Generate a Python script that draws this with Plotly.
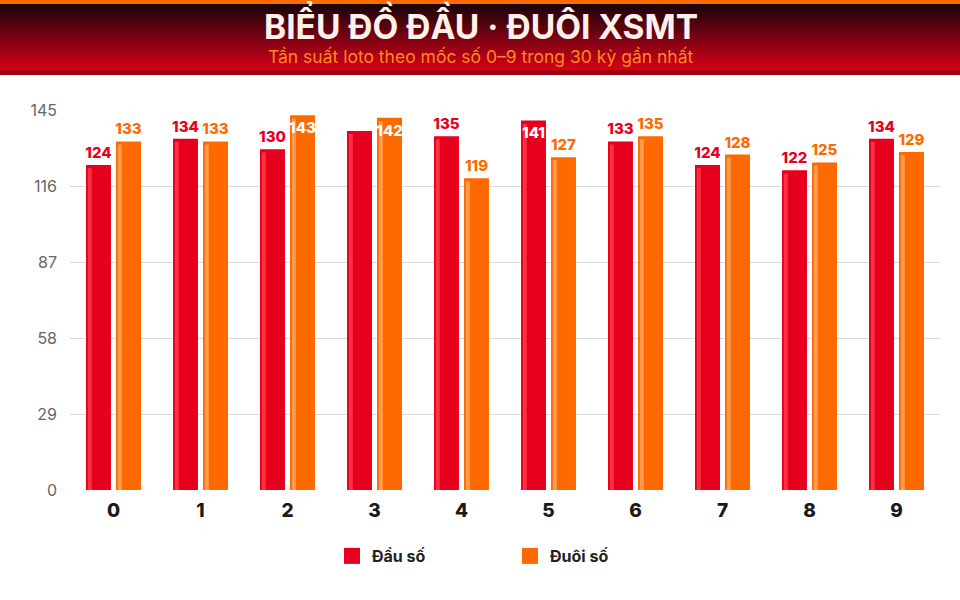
import plotly.graph_objects as go

# Data
digits = ["0", "1", "2", "3", "4", "5", "6", "7", "8", "9"]
dau_so = [124, 134, 130, 137, 135, 141, 133, 124, 122, 134]
duoi_so = [133, 133, 143, 142, 119, 127, 135, 128, 125, 129]
y_ticks = [0, 29, 58, 87, 116, 145]

# label placement (chart.js style: big bars get label inside, overlapping label hidden)
dau_pos = ["outside", "outside", "outside", "none", "outside", "inside", "outside", "outside", "outside", "outside"]
duoi_pos = ["outside", "outside", "inside", "inside", "outside", "outside", "outside", "outside", "outside", "outside"]

RED = "#e6001e"
ORANGE = "#ff6a00"
W, H = 960, 600
ML, MR, MT, MB = 70, 20, 110, 110
PW, PH = W - ML - MR, H - MT - MB


def px_x(p):
    return (p - ML) / PW


def px_y(p):
    return (H - MB - p) / PH


fig = go.Figure()

bw = 0.287
offs = {"dau": -0.316, "duoi": 0.029}

# main bars
fig.add_trace(go.Bar(
    x=digits, y=dau_so, name="Đầu số", offset=offs["dau"], width=bw,
    marker=dict(color=RED, line=dict(width=0)), hoverinfo="x+y", showlegend=False,
))
fig.add_trace(go.Bar(
    x=digits, y=duoi_so, name="Đuôi số", offset=offs["duoi"], width=bw,
    marker=dict(color=ORANGE, line=dict(width=0)), hoverinfo="x+y", showlegend=False,
))
# light highlight stripe on the left of each bar
fig.add_trace(go.Bar(
    x=digits, y=[v - 1.2 for v in dau_so], offset=offs["dau"] + 0.021, width=0.045,
    marker=dict(color="#ff3040", line=dict(width=0)), showlegend=False, hoverinfo="skip",
))
fig.add_trace(go.Bar(
    x=digits, y=[v - 1.2 for v in duoi_so], offset=offs["duoi"] + 0.021, width=0.045,
    marker=dict(color="#ff9c50", line=dict(width=0)), showlegend=False, hoverinfo="skip",
))
# value labels on transparent bars so they sit above the stripes
label_font = dict(family="Inter", size=15, weight=800)
for vals, pos, off, col in [(dau_so, dau_pos, offs["dau"], RED), (duoi_so, duoi_pos, offs["duoi"], ORANGE)]:
    fig.add_trace(go.Bar(
        x=digits, y=vals, offset=off, width=bw,
        marker=dict(color="rgba(0,0,0,0)", line=dict(width=0)),
        text=[str(v) for v in vals], textposition=pos, textangle=0,
        insidetextanchor="end", constraintext="none", textfont=label_font,
        outsidetextfont=dict(color=col), insidetextfont=dict(color="white"),
        cliponaxis=False, showlegend=False, hoverinfo="skip",
    ))
# legend entries with big square swatches
for name, col in [("Đầu số", RED), ("Đuôi số", ORANGE)]:
    fig.add_trace(go.Scatter(
        x=[None], y=[None], mode="markers", name=name,
        marker=dict(symbol="square", size=19, color=col, line=dict(width=0)),
    ))

# header band: orange stripe, dark-to-red gradient, dark red underline
shapes = [dict(type="rect", xref="paper", yref="paper", x0=px_x(0), x1=px_x(W),
               y0=px_y(4), y1=px_y(0), fillcolor=ORANGE, line=dict(width=0), layer="below")]
top = (26, 5, 10)
bot = (212, 0, 26)
steps = 33
for i in range(steps):
    t = i / (steps - 1)
    c = tuple(int(top[k] + (bot[k] - top[k]) * t) for k in range(3))
    y0 = 4 + i * 2
    shapes.append(dict(type="rect", xref="paper", yref="paper", x0=px_x(0), x1=px_x(W),
                       y0=px_y(y0 + 2.2), y1=px_y(y0), fillcolor="rgb(%d,%d,%d)" % c,
                       line=dict(width=0), layer="below"))
shapes.append(dict(type="rect", xref="paper", yref="paper", x0=px_x(0), x1=px_x(W),
                   y0=px_y(75), y1=px_y(70), fillcolor="#a3000f", line=dict(width=0), layer="below"))

annotations = [
    dict(text="<b>BIỂU ĐỒ ĐẦU · ĐUÔI XSMT</b>", xref="paper", yref="paper",
         x=px_x(481), y=px_y(24), xanchor="center", yanchor="middle", showarrow=False,
         font=dict(family="Inter", size=33.5, color="#fff1e8", weight=800)),
    dict(text="Tần suất loto theo mốc số 0–9 trong 30 kỳ gần nhất", xref="paper", yref="paper",
         x=px_x(480), y=px_y(56), xanchor="center", yanchor="middle", showarrow=False,
         font=dict(family="Inter", size=17.5, color="#ff8a1e")),
]

fig.update_layout(
    width=W, height=H,
    margin=dict(l=ML, r=MR, t=MT, b=MB),
    plot_bgcolor="white", paper_bgcolor="white",
    barmode="overlay",
    shapes=shapes, annotations=annotations,
    showlegend=True,
    legend=dict(orientation="h", x=px_x(332), xanchor="left", y=px_y(556), yanchor="middle",
                font=dict(family="Inter", size=16, color="#222222", weight=700),
                itemwidth=30, entrywidth=133, itemsizing="trace", traceorder="normal"),
    xaxis=dict(type="category", showgrid=False, ticks="", showline=False, ticklabelstandoff=7,
               tickfont=dict(family="Inter", size=19, color="#1a1a1a", weight=800)),
    yaxis=dict(range=[0, 145], tickvals=y_ticks, showgrid=True, gridcolor="#d9d9d9",
               gridwidth=1, zeroline=False, ticks="", showline=False,
               tickfont=dict(family="Inter", size=16, color="#666666"), ticklabelstandoff=12),
    hovermode="closest",
)

fig.write_html("out.html", config={"displayModeBar": False},
               post_script="document.body.style.margin='0';")
